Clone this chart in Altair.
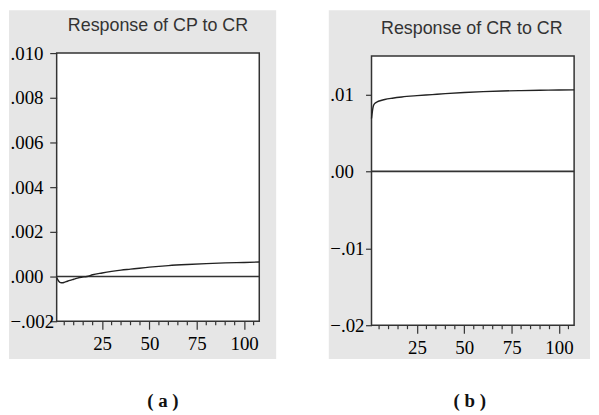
import altair as alt
import pandas as pd

# ---- data ----
periods_a = [1, 2, 3, 4, 5, 6, 8, 10, 12, 14, 17, 20, 25, 30, 35, 40, 50, 60, 70, 80, 90, 100, 108]
cp_to_cr = [-0.00005, -0.00020, -0.00027, -0.00028, -0.00026, -0.00023, -0.00017, -0.00012,
            -0.00007, -0.00003, 0.00000, 0.00008, 0.00016, 0.00023, 0.00029, 0.00033, 0.00042,
            0.00049, 0.00054, 0.00058, 0.00061, 0.00063, 0.00065]

periods_b = [1, 2, 3, 4, 6, 8, 12, 17, 25, 33, 40, 50, 60, 70, 80, 90, 100, 108]
cr_to_cr = [0.00688, 0.00855, 0.00890, 0.00905, 0.00922, 0.00935, 0.00952, 0.00968, 0.00985,
            0.00999, 0.01012, 0.01027, 0.01038, 0.01046, 0.01051, 0.01055, 0.01058, 0.01060]

x_major = [25, 50, 75, 100]
x_minor = [5, 10, 15, 20, 30, 35, 40, 45, 55, 60, 65, 70, 80, 85, 90, 95, 105]
y_ticks_a = [-0.002, 0.0, 0.002, 0.004, 0.006, 0.008, 0.010]
y_ticks_b = [-0.02, -0.01, 0.0, 0.01]

titles = ["Response of CP to CR", "Response of CR to CR"]
captions = ["( a )", "( b )"]

GRAY = "#e6e6e6"
INK = "#333333"
SERIF = "Liberation Serif"
SANS = "Liberation Sans"


def label_expr(decimals):
    f = "'.%df'" % decimals
    return ("datum.value < 0 ? '\u2212' + substring(format(-datum.value, %s), 1) "
            ": substring(format(datum.value, %s), 1)") % (f, f)


def panel(periods, values, title, caption, y_dom, y_ticks, decimals, W, H, top,
          gray_box, title_xy, cap_xy, ytick, ypad):
    xscale = alt.Scale(domain=[1, 108], nice=False, zero=False)
    yscale = alt.Scale(domain=y_dom, nice=False, zero=False, range=[H, top])
    xaxis = alt.Axis(values=x_major, title=None, grid=False, domain=False, zindex=1,
                     tickSize=8, tickColor=INK, tickWidth=1.2, labelPadding=5,
                     labelFont=SERIF, labelFontSize=19, labelColor="#000",
                     labelFlush=False, labelOverlap=False)
    yaxis = alt.Axis(values=y_ticks, title=None, grid=False, domain=False, zindex=1,
                     tickSize=ytick, tickColor=INK, tickWidth=1.2, labelAlign="left",
                     labelBaseline="middle", labelPadding=ypad, labelExpr=label_expr(decimals),
                     labelFont=SERIF, labelFontSize=19, labelColor="#000",
                     labelFlush=False, labelOverlap=False)

    one = pd.DataFrame({"k": [0]})
    gx1, gx2, gy1, gy2 = gray_box
    bg = alt.Chart(one).mark_rect(color=GRAY).encode(
        x=alt.value(gx1), x2=alt.value(gx2), y=alt.value(gy1), y2=alt.value(gy2))
    frame = alt.Chart(one).mark_rect(fill="white", stroke=INK, strokeWidth=1.5).encode(
        x=alt.value(0), x2=alt.value(W), y=alt.value(top), y2=alt.value(H))
    minor = alt.Chart(pd.DataFrame({"t": x_minor})).mark_rule(color=INK, strokeWidth=1.2).encode(
        x=alt.X("t:Q", scale=xscale, axis=xaxis),
        y=alt.value(H), y2=alt.value(H + 4))
    zero = alt.Chart(one).mark_rule(color=INK, strokeWidth=1.6).encode(
        y=alt.Y("z:Q", scale=yscale, axis=yaxis)).transform_calculate(z="0")
    line = alt.Chart(pd.DataFrame({"period": periods, "value": values})).mark_line(
        color="#222222", strokeWidth=1.4, interpolate="monotone").encode(
        x=alt.X("period:Q", scale=xscale, axis=xaxis),
        y=alt.Y("value:Q", scale=yscale, axis=yaxis))
    ttl = alt.Chart(one).mark_text(font=SANS, fontSize=18, color=INK, align="center",
                                   baseline="alphabetic").encode(
        x=alt.value(title_xy[0]), y=alt.value(title_xy[1]), text=alt.value(title))
    cap = alt.Chart(one).mark_text(font=SERIF, fontSize=19, fontWeight="bold", color="#111",
                                   align="center", baseline="alphabetic").encode(
        x=alt.value(cap_xy[0]), y=alt.value(cap_xy[1]), text=alt.value(caption))
    return alt.layer(bg, frame, minor, zero, line, ttl, cap).properties(width=W, height=H)


pa = panel(periods_a, cp_to_cr, titles[0], captions[0], [-0.002, 0.010], y_ticks_a, 3,
           204, 267, -3, (-48, 221, -46, 305), (102, -25), (107, 353), 7, 40)
pb = panel(periods_b, cr_to_cr, titles[1], captions[1], [-0.02, 0.015], y_ticks_b, 2,
           204, 271, 0, (-43, 220, -46, 305), (101, -22), (99, 353), 6, 36)

chart = alt.hconcat(pa, pb, spacing=51).properties(
    padding=0, background="white"
).configure_view(stroke="transparent")

chart.save("out.html", embed_options={"renderer": "svg", "actions": False})
